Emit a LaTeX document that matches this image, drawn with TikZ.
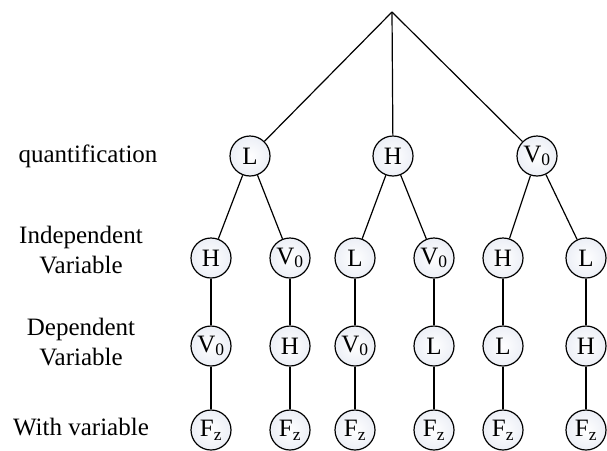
\documentclass[tikz,border=0pt]{standalone}
\usepackage{fontspec}
\setmainfont{Liberation Serif}
\definecolor{rimtint}{RGB}{236,239,246}
\begin{document}
\begin{tikzpicture}[x=1pt,y=-1pt,
  every node/.style={font=\rmfamily\fontsize{25}{30}\selectfont},
  var/.style={circle,draw,line width=1.2pt,minimum size=40pt,inner sep=0pt,
    inner color=white,outer color=rimtint},
  edge/.style={line width=1.2pt},
  rowlabel/.style={align=center}]
\useasboundingbox (0,0) rectangle (607,450);

% root point of the tree
\coordinate (root) at (392,12);

% first level
\node[var] (a) at (250,156) {L};
\node[var] (b) at (393,156) {H};
\node[var] (c) at (537,156) {V\textsubscript{0}};

% second level
\node[var] (a1) at (211,258) {H};
\node[var] (a2) at (290,258) {V\textsubscript{0}};
\node[var] (b1) at (355,258) {L};
\node[var] (b2) at (434,258) {V\textsubscript{0}};
\node[var] (c1) at (503,258) {H};
\node[var] (c2) at (586,258) {L};

% third level
\node[var] (a1d) at (211,346) {V\textsubscript{0}};
\node[var] (a2d) at (290,346) {H};
\node[var] (b1d) at (355,346) {V\textsubscript{0}};
\node[var] (b2d) at (434,346) {L};
\node[var] (c1d) at (503,346) {L};
\node[var] (c2d) at (586,346) {H};

% fourth level
\node[var] (a1f) at (211,430) {F\textsubscript{z}};
\node[var] (a2f) at (290,430) {F\textsubscript{z}};
\node[var] (b1f) at (355,430) {F\textsubscript{z}};
\node[var] (b2f) at (434,430) {F\textsubscript{z}};
\node[var] (c1f) at (503,430) {F\textsubscript{z}};
\node[var] (c2f) at (586,430) {F\textsubscript{z}};

% connectors
\draw[edge] (root) -- (a);
\draw[edge] (root) -- (b);
\draw[edge] (root) -- (c);
\foreach \p/\q in {a/a1,a/a2,b/b1,b/b2,c/c1,c/c2}
  \draw[edge] (\p) -- (\q);
\foreach \q in {a1,a2,b1,b2,c1,c2}{
  \draw[edge] (\q) -- (\q d);
  \draw[edge] (\q d) -- (\q f);
}

% row labels
\node[rowlabel] (l1) at (88,156) {quantification};
\node[rowlabel] (l2) at (81,250) {Independent\\Variable};
\node[rowlabel] (l3) at (81,342) {Dependent\\Variable};
\node[rowlabel] (l4) at (81,427) {With variable};
\end{tikzpicture}
\end{document}
